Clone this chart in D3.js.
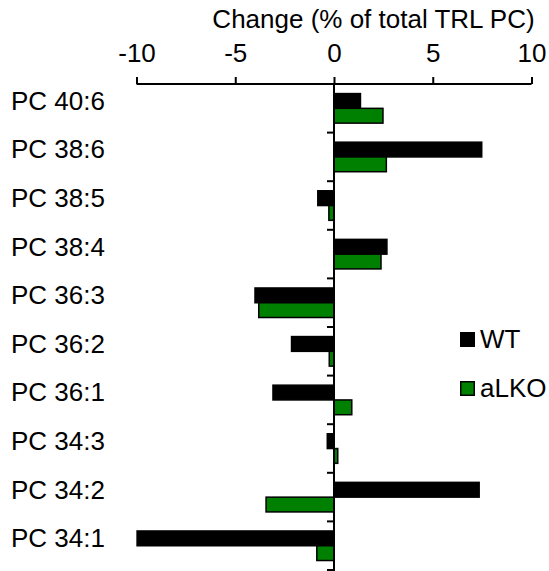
<!DOCTYPE html>
<html>
<head>
<meta charset="utf-8">
<script src="https://cdn.jsdelivr.net/npm/d3@7"></script>
<style>
  html, body { margin: 0; padding: 0; background: #fff; }
  svg text { font-family: "Liberation Sans", Arial, sans-serif; fill: #000; }
</style>
</head>
<body>
<svg id="chart" width="549" height="571"></svg>
<script>
// Lipid species, top to bottom
const categories = ["PC 40:6", "PC 38:6", "PC 38:5", "PC 38:4", "PC 36:3",
                    "PC 36:2", "PC 36:1", "PC 34:3", "PC 34:2", "PC 34:1"];
const seriesNames = ["WT", "aLKO"];
const wtValues   = [1.34, 7.48, -0.82, 2.68, -4.0, -2.15, -3.09, -0.34, 7.35, -9.97];
const alkoValues = [2.48, 2.65, -0.26, 2.38, -3.81, -0.24, 0.9, 0.19, -3.44, -0.87];
const xTicks = [-10, -5, 0, 5, 10];
const seriesColors = ["#000000", "#008000"];

const svg = d3.select("#chart");
const fontSize = 26;

const x = d3.scaleLinear().domain([-10, 10]).range([136.5, 531.5]);
const y = d3.scaleBand().domain(categories).range([84, 570]).padding(0);
const bw = y.bandwidth();
const ySub = d3.scaleBand().domain(seriesNames).range([0.197 * bw, 0.805 * bw]).padding(0);

const rows = categories.map((c, i) => ({ cat: c, WT: wtValues[i], aLKO: alkoValues[i] }));

// Bars
const groups = svg.append("g").selectAll("g").data(rows).join("g")
  .attr("transform", d => `translate(0,${y(d.cat)})`);
groups.selectAll("rect")
  .data(d => seriesNames.map((s, k) => ({ s, k, v: d[s] })))
  .join("rect")
  .attr("x", d => Math.min(x(0), x(d.v)))
  .attr("y", d => ySub(d.s))
  .attr("width", d => Math.abs(x(d.v) - x(0)))
  .attr("height", ySub.bandwidth())
  .attr("fill", d => seriesColors[d.k])
  .attr("stroke", "#000")
  .attr("stroke-width", 1.5);

// Top value axis (plain hyphen for negatives)
const xAxis = svg.append("g")
  .attr("transform", "translate(0,84)")
  .call(d3.axisTop(x).tickValues(xTicks).tickSize(7).tickPadding(15).tickFormat(d => String(d)));
xAxis.select(".domain").attr("stroke-width", 2).attr("d", `M${x(-10)},0H${x(10)}`);
xAxis.selectAll(".tick line").attr("stroke-width", 2);
xAxis.selectAll(".tick text").style("font-size", fontSize + "px")
  .style("font-family", "'Liberation Sans', Arial, sans-serif");

// Category axis at zero, with ticks between categories
const yAxisG = svg.append("g").attr("transform", `translate(${x(0)},0)`);
yAxisG.append("line").attr("x1", 0).attr("x2", 0).attr("y1", 84).attr("y2", 571)
  .attr("stroke", "#000").attr("stroke-width", 2);
yAxisG.selectAll("line.cut").data(categories.slice(1)).join("line")
  .attr("class", "cut")
  .attr("x1", -7).attr("x2", 0)
  .attr("y1", d => y(d)).attr("y2", d => y(d))
  .attr("stroke", "#000").attr("stroke-width", 2);
yAxisG.append("line").attr("x1", -7).attr("x2", 0).attr("y1", 570).attr("y2", 570)
  .attr("stroke", "#000").attr("stroke-width", 2);

// Category labels
svg.append("g").selectAll("text").data(categories).join("text")
  .attr("x", 11)
  .attr("y", d => y(d) + bw / 2 + 1.5)
  .style("font-size", fontSize + "px")
  .text(d => d);

// Axis title
svg.append("text")
  .attr("x", 373.5).attr("y", 28)
  .attr("text-anchor", "middle")
  .style("font-size", fontSize + "px")
  .text("Change (% of total TRL PC)");

// Legend
const legend = svg.append("g").selectAll("g").data(seriesNames).join("g")
  .attr("transform", (d, i) => `translate(460,${332 + i * 49})`);
legend.append("rect")
  .attr("x", 0.75).attr("y", 0.75).attr("width", 13.5).attr("height", 13.5)
  .attr("fill", (d, i) => seriesColors[i])
  .attr("stroke", "#000").attr("stroke-width", 1.5);
legend.append("text")
  .attr("x", 20).attr("y", 15.5)
  .style("font-size", fontSize + "px")
  .text(d => d);
</script>
</body>
</html>
